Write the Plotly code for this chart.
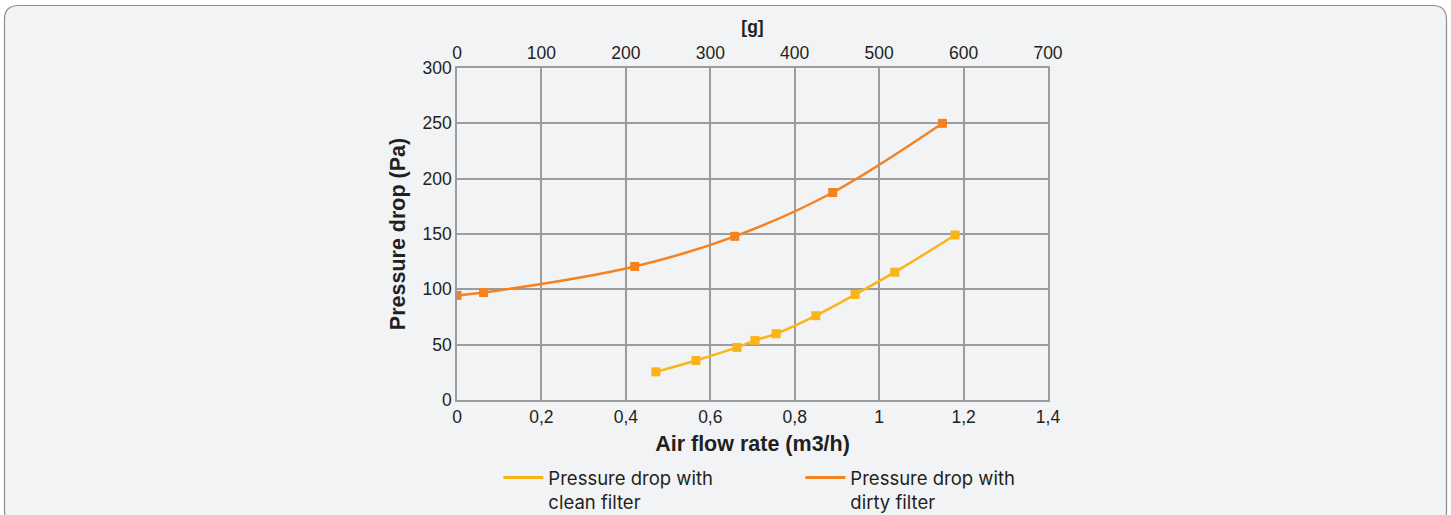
import plotly.graph_objects as go

# Data
clean_x = [0.471, 0.566, 0.663, 0.706, 0.756, 0.850, 0.943, 1.037, 1.180]
clean_y = [25.4, 35.7, 47.5, 53.8, 59.9, 76.2, 95.3, 115.5, 149.1]
dirty_x = [0.0, 0.063, 0.421, 0.658, 0.890, 1.150]
dirty_y = [94.5, 97.1, 120.7, 147.9, 187.5, 250.0]
g_range = [0, 700]
clean_name = "Pressure drop with<br>clean filter"
dirty_name = "Pressure drop with<br>dirty filter"

W, H = 1451, 515
L, R, T, B = 457, 1048, 68, 400

clean_color = "#fbb418"
dirty_color = "#f5821f"
grid_color = "#9c9c9e"
bg = "#f2f3f5"
text_color = "#231f20"
tick_family = "Liberation Sans, Arial, Helvetica, sans-serif"
legend_family = "Inter, Liberation Sans, Arial, sans-serif"
tick_size = 17.5

fig = go.Figure()
fig.add_trace(go.Scatter(
    x=clean_x, y=clean_y, mode="lines+markers", line_shape="spline",
    line=dict(color=clean_color, width=2.5),
    marker=dict(symbol="square", size=9, color=clean_color),
    name=clean_name, showlegend=False))
fig.add_trace(go.Scatter(
    x=dirty_x, y=dirty_y, mode="lines+markers", line_shape="spline",
    line=dict(color=dirty_color, width=2.5),
    marker=dict(symbol="square", size=9, color=dirty_color),
    name=dirty_name, showlegend=False))
# legend entries (line only)
fig.add_trace(go.Scatter(x=[None], y=[None], mode="lines",
                         line=dict(color=clean_color, width=3),
                         name=clean_name, legend="legend"))
fig.add_trace(go.Scatter(x=[None], y=[None], mode="lines",
                         line=dict(color=dirty_color, width=3),
                         name=dirty_name, legend="legend2"))
# helper trace for the top [g] axis
fig.add_trace(go.Scatter(x=g_range, y=[0, 0], xaxis="x2", mode="lines",
                         line=dict(width=0), showlegend=False, hoverinfo="skip"))

axis_common = dict(showline=True, linecolor=grid_color, linewidth=1.5,
                   gridcolor=grid_color, gridwidth=1.5, zeroline=False,
                   ticks="", tickfont=dict(size=tick_size, color=text_color, family=tick_family))

legend_common = dict(orientation="h", xanchor="left", y=-0.178, yanchor="top",
                     bgcolor="rgba(0,0,0,0)", valign="top",
                     font=dict(size=18.5, color=text_color, family=legend_family),
                     itemwidth=40)

fig.update_layout(
    width=W, height=H,
    margin=dict(l=L, r=W - R, t=T, b=H - B, pad=0, autoexpand=False),
    paper_bgcolor="white", plot_bgcolor=bg,
    font=dict(family=tick_family, color=text_color),
    separators=", ",
    xaxis=dict(range=[0, 1.4], dtick=0.2, tick0=0, mirror=True,
               title=dict(text="<b>Air flow rate (m3/h)</b>",
                          font=dict(size=21.5, family=tick_family), standoff=10),
               **axis_common),
    xaxis2=dict(range=g_range, dtick=100, tick0=0, overlaying="x", side="top",
                showgrid=False, showline=False, zeroline=False,
                ticks="outside", ticklen=1, tickcolor="rgba(0,0,0,0)",
                tickfont=dict(size=tick_size, color=text_color, family=tick_family),
                title=dict(text="<b>[g]</b>", font=dict(size=17.5, family=tick_family), standoff=4)),
    yaxis=dict(range=[0, 300], dtick=50, mirror=True,
               title=dict(text="<b>Pressure drop (Pa)</b>",
                          font=dict(size=21.5, family=tick_family), standoff=11),
               **axis_common),
    legend=dict(x=0.070, **legend_common),
    legend2=dict(x=0.581, **legend_common),
    showlegend=True,
)

# rounded background panel (pixel coords converted to paper coords)
x0, y0, x1, y1, r = 4.5, 5.5, 1446.5, 525, 14
path = (f"M {x0+r},{y0} L {x1-r},{y0} Q {x1},{y0} {x1},{y0+r} "
        f"L {x1},{y1-r} Q {x1},{y1} {x1-r},{y1} L {x0+r},{y1} Q {x0},{y1} {x0},{y1-r} "
        f"L {x0},{y0+r} Q {x0},{y0} {x0+r},{y0} Z")


def px(xv):
    return (xv - L) / (R - L)


def py(yv):
    return (B - yv) / (B - T)


def conv(p):
    out = []
    for tok in p.split(" "):
        if "," in tok:
            a, b = tok.split(",")
            out.append(f"{px(float(a)):.5f},{py(float(b)):.5f}")
        else:
            out.append(tok)
    return " ".join(out)


fig.add_shape(type="path", path=conv(path), xref="paper", yref="paper",
              fillcolor=bg, line=dict(color="#8c8c8c", width=1.2), layer="below")

fig.write_html("out.html", config={"displayModeBar": False},
               post_script="document.body.style.margin='0';document.body.style.overflow='hidden';")
